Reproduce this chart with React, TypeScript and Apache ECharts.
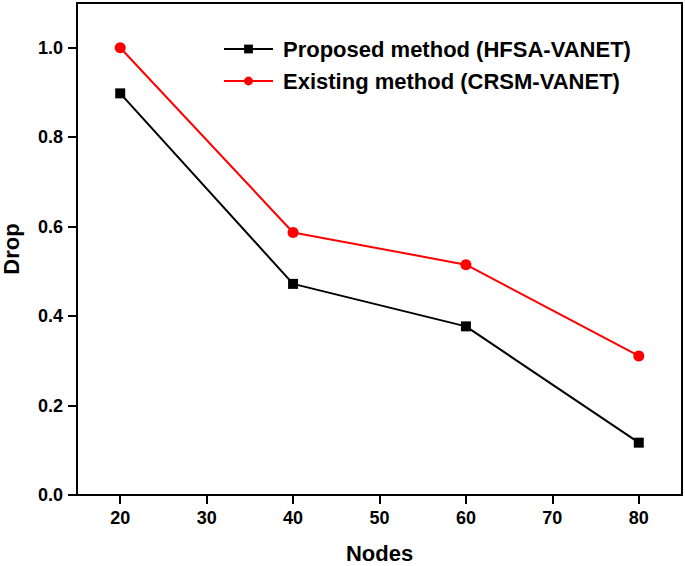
import React, { useEffect, useRef } from "react";
import * as echarts from "echarts";

const nodes = [20, 40, 60, 80];
const proposed = [0.898, 0.472, 0.377, 0.117];
const existing = [1.0, 0.587, 0.515, 0.311];
const seriesNames = ["Proposed method (HFSA-VANET)", "Existing method (CRSM-VANET)"];
const xTicks = [20, 30, 40, 50, 60, 70, 80];
const yTicks = [0, 0.2, 0.4, 0.6, 0.8, 1.0];
const FONT = "Liberation Sans, Arial, sans-serif";

export default function App() {
  const ref = useRef<HTMLDivElement>(null);
  useEffect(() => {
    if (!ref.current) return;
    const chart = echarts.init(ref.current, undefined, { renderer: "svg" });
    chart.setOption({
      animation: false,
      backgroundColor: "#fff",
      textStyle: { fontFamily: FONT },
      grid: {
        left: 77,
        right: 3,
        top: 3,
        bottom: 71,
        show: true,
        borderColor: "#000",
        borderWidth: 2,
        containLabel: false,
        outerBoundsMode: "none",
      },
      legend: {
        orient: "vertical",
        left: 223,
        top: 38,
        padding: 0,
        itemWidth: 49,
        itemHeight: 11,
        itemGap: 10,
        textStyle: {
          fontSize: 22,
          lineHeight: 22,
          fontWeight: "bold",
          color: "#000",
          fontFamily: FONT,
          padding: [0, 0, 0, 5],
        },
        data: seriesNames,
      },
      xAxis: {
        type: "value",
        min: 15,
        max: 85,
        interval: 5,
        name: "Nodes",
        nameLocation: "middle",
        nameGap: 47,
        nameTextStyle: { fontSize: 22, fontWeight: "bold", color: "#000", fontFamily: FONT },
        axisLine: { show: true, lineStyle: { color: "#000", width: 2 } },
        axisTick: {
          show: true,
          length: 9,
          lineStyle: { color: "#000", width: 2 },
          customValues: xTicks,
        },
        axisLabel: {
          fontSize: 18,
          fontWeight: "bold",
          color: "#000",
          margin: 14,
          fontFamily: FONT,
          customValues: xTicks,
        },
        splitLine: { show: false },
      },
      yAxis: {
        type: "value",
        min: 0,
        max: 1.1,
        interval: 0.1,
        name: "Drop",
        nameLocation: "middle",
        nameGap: 55,
        nameRotate: 90,
        nameTextStyle: { fontSize: 22, fontWeight: "bold", color: "#000", fontFamily: FONT },
        axisLine: { show: true, lineStyle: { color: "#000", width: 2 } },
        axisTick: {
          show: true,
          length: 9,
          lineStyle: { color: "#000", width: 2 },
          customValues: yTicks,
        },
        axisLabel: {
          fontSize: 18,
          fontWeight: "bold",
          color: "#000",
          margin: 14,
          fontFamily: FONT,
          customValues: yTicks,
          formatter: (v: number) => v.toFixed(1),
        },
        splitLine: { show: false },
      },
      series: [
        {
          name: seriesNames[0],
          type: "line",
          data: nodes.map((n, i) => [n, proposed[i]]),
          symbol: "rect",
          symbolSize: 10,
          lineStyle: { color: "#000", width: 2 },
          itemStyle: { color: "#000" },
        },
        {
          name: seriesNames[1],
          type: "line",
          data: nodes.map((n, i) => [n, existing[i]]),
          symbol: "circle",
          symbolSize: 11,
          lineStyle: { color: "#ff0000", width: 2 },
          itemStyle: { color: "#ff0000" },
        },
      ],
    });
    return () => chart.dispose();
  }, []);
  return (
    <div
      ref={ref}
      style={{ position: "absolute", left: 0, top: 0, width: 685, height: 566 }}
    />
  );
}
